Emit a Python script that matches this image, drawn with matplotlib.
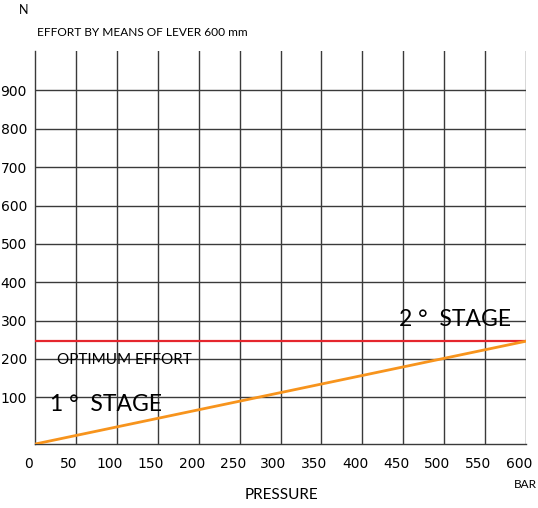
import matplotlib
matplotlib.use("Agg")
import matplotlib.pyplot as plt
import matplotlib.transforms as mtransforms

plt.rcParams['font.family'] = ['Lato', 'DejaVu Sans']

# Data
pressure_ticks = [0, 50, 100, 150, 200, 250, 300, 350, 400, 450, 500, 550, 600]
effort_ticks = [100, 200, 300, 400, 500, 600, 700, 800, 900]
stage_pressure = [0, 600]
stage_effort = [-22, 246]
optimum_pressure = [0, 600]
optimum_effort = [246, 246]

W, H = 538, 508
fig = plt.figure(figsize=(W / 100, H / 100), dpi=100)
left, right, top, bottom = 35.3, 525.7, 51, 444
ax = fig.add_axes([left / W, (H - bottom) / H, (right - left) / W, (bottom - top) / H])

ax.set_xlim(0, 600)
ax.set_ylim(-22, 1003)

grid_c = '#3a3a3a'
for x in pressure_ticks[1:]:
    ax.axvline(x, color=grid_c, lw=1.0, zorder=1)
for y in effort_ticks:
    ax.axhline(y, color=grid_c, lw=1.0, zorder=1)

ax.plot(optimum_pressure, optimum_effort, color='#e5262d', lw=1.6, zorder=3)
ax.plot(stage_pressure, stage_effort, color='#f7941d', lw=2.0, zorder=3)

for s in ['top', 'right']:
    ax.spines[s].set_visible(False)
ax.spines['left'].set_color(grid_c)
ax.spines['bottom'].set_color(grid_c)
ax.spines['left'].set_linewidth(1.0)
ax.spines['bottom'].set_linewidth(1.0)

ax.set_xticks(pressure_ticks)
ax.set_xticklabels([str(v) for v in pressure_ticks])
ax.set_yticks(effort_ticks)
ax.set_yticklabels([str(v) for v in effort_ticks])
ax.tick_params(axis='both', length=0, labelsize=10, colors='black')
ax.tick_params(axis='x', pad=9)
ax.tick_params(axis='y', pad=6)
for lbl in ax.get_xticklabels() + ax.get_yticklabels():
    lbl.set_family('DejaVu Sans')
offset = mtransforms.ScaledTranslation(-7 / 100, 0, fig.dpi_scale_trans)
for lbl in ax.get_xticklabels():
    lbl.set_transform(lbl.get_transform() + offset)

ax.text(26, 197.5, 'OPTIMUM EFFORT', fontsize=11, va='center', ha='left', zorder=4)
ax.text(18, 80, '1 °  STAGE', fontsize=16.5, va='center', ha='left', zorder=4)
ax.text(582, 304, '2 °  STAGE', fontsize=16.5, va='center', ha='right', zorder=4)

fig.text(24 / W, 1 - 10 / H, 'N', fontsize=9, ha='center', va='center')
fig.text(37 / W, 1 - 33 / H, 'EFFORT BY MEANS OF LEVER 600 mm', fontsize=8.6, ha='left', va='center')
fig.text(281 / W, 1 - 495 / H, 'PRESSURE', fontsize=11, ha='center', va='center')
fig.text(525 / W, 1 - 485 / H, 'BAR', fontsize=8.5, ha='center', va='center')

fig.savefig('out.png', dpi=100, facecolor='white')
